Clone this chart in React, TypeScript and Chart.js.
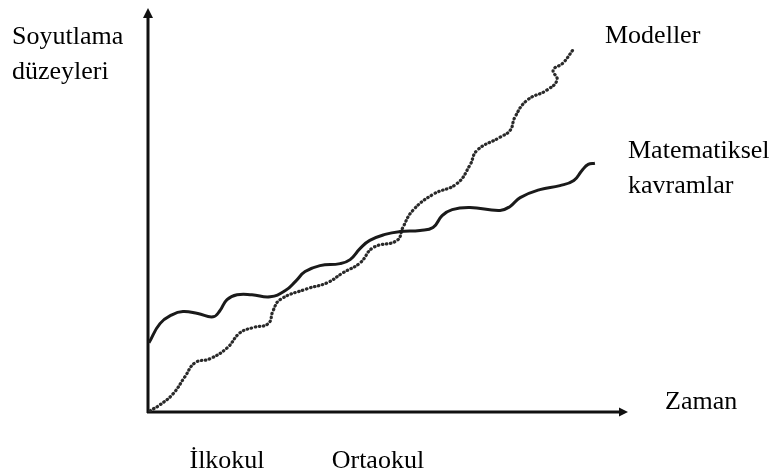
import React, { useEffect, useRef } from "react";
import { Chart, registerables } from "chart.js";

Chart.register(...registerables);

// Time (x, 0..100) and abstraction level (y, 0..100)
const mathTime = [0.2, 2.5, 5.0, 7.3, 10.4, 13.6, 15.0, 16.5, 18.6, 21.7, 25.5, 28.6, 30.9, 32.8, 35.9, 40.1, 42.2, 44.3, 46.3, 49.5, 52.6, 56.8, 59.5, 61.4, 63.5, 67.2, 73.5, 75.6, 77.7, 81.8, 86.0, 88.9, 90.6, 91.9, 93.3];
const mathLevel = [17.3, 22.1, 24.3, 25.1, 24.6, 23.8, 25.3, 28.1, 29.3, 29.3, 28.8, 30.3, 32.8, 35.1, 36.6, 37.1, 38.1, 40.9, 42.9, 44.4, 45.1, 45.4, 46.1, 49.1, 50.6, 51.1, 50.4, 51.4, 53.6, 55.6, 56.6, 57.9, 60.4, 61.9, 62.2];

const modelTime = [0.4, 2.5, 5.2, 7.7, 9.8, 12.9, 16.5, 19.2, 21.9, 25.1, 26.1, 27.6, 33.2, 37.4, 40.7, 44.3, 47.0, 52.0, 53.2, 55.3, 59.5, 64.5, 67.2, 68.7, 73.5, 75.6, 76.6, 79.1, 83.3, 85.4, 84.6, 86.6, 88.7];
const modelLevel = [0.3, 1.8, 4.5, 8.8, 12.3, 13.3, 16.0, 19.8, 21.1, 22.1, 25.3, 28.1, 30.8, 32.3, 34.8, 37.3, 41.1, 42.9, 46.1, 50.4, 54.4, 57.1, 61.7, 65.4, 68.7, 70.4, 73.7, 77.9, 80.5, 83.0, 85.5, 87.2, 90.5];

const stageLabels = ["İlkokul", "Ortaokul"];
const stageTimes = [16.5, 48];

const yTitle = ["Soyutlama", "düzeyleri"];
const xTitle = "Zaman";
const modelName = "Modeller";
const mathName = ["Matematiksel", "kavramlar"];

const FONT = '26px "Liberation Serif", "Times New Roman", serif';

const axesPlugin = {
  id: "axesArrows",
  beforeDatasetsDraw(chart: any) {
    const { ctx, chartArea } = chart;
    const { left, right, top, bottom } = chartArea;
    ctx.save();
    ctx.strokeStyle = "#111";
    ctx.fillStyle = "#111";
    ctx.lineWidth = 3;
    ctx.lineCap = "butt";
    // y axis
    ctx.beginPath();
    ctx.moveTo(left, bottom + 1);
    ctx.lineTo(left, top + 6);
    ctx.stroke();
    ctx.beginPath();
    ctx.moveTo(left, top - 4);
    ctx.lineTo(left - 5, top + 6);
    ctx.lineTo(left + 5, top + 6);
    ctx.closePath();
    ctx.fill();
    // x axis
    ctx.beginPath();
    ctx.moveTo(left - 1, bottom);
    ctx.lineTo(right - 7, bottom);
    ctx.stroke();
    ctx.beginPath();
    ctx.moveTo(right + 1, bottom);
    ctx.lineTo(right - 8, bottom - 4.5);
    ctx.lineTo(right - 8, bottom + 4.5);
    ctx.closePath();
    ctx.fill();
    ctx.restore();
  },
  afterDraw(chart: any) {
    const { ctx, chartArea } = chart;
    const { left, right, top, bottom } = chartArea;
    const xs = chart.scales.x;
    ctx.save();
    ctx.fillStyle = "#000";
    ctx.font = FONT;
    ctx.textBaseline = "alphabetic";
    ctx.textAlign = "left";
    ctx.fillText(yTitle[0], left - 136, top + 32);
    ctx.fillText(yTitle[1], left - 136, top + 67);
    ctx.fillText(modelName, right - 22, top + 31);
    ctx.fillText(mathName[0], right + 1, top + 146);
    ctx.fillText(mathName[1], right + 1, top + 181);
    ctx.fillText(xTitle, right + 38, bottom - 3);
    ctx.textAlign = "center";
    stageLabels.forEach((s, i) => {
      ctx.fillText(s, xs.getPixelForValue(stageTimes[i]), bottom + 56);
    });
    ctx.restore();
  },
};

export default function App() {
  const ref = useRef<HTMLCanvasElement>(null);
  useEffect(() => {
    if (!ref.current) return;
    const chart = new Chart(ref.current, {
      type: "line",
      data: {
        datasets: [
          {
            label: mathName.join(" "),
            data: mathTime.map((t, i) => ({ x: t, y: mathLevel[i] })),
            borderColor: "#1a1a1a",
            borderWidth: 3,
            pointRadius: 0,
            tension: 0.45,
            fill: false,
          },
          {
            label: modelName,
            data: modelTime.map((t, i) => ({ x: t, y: modelLevel[i] })),
            borderColor: "#2a2a2a",
            borderWidth: 3.2,
            borderDash: [0.5, 3.6],
            borderCapStyle: "round",
            pointRadius: 0,
            tension: 0.45,
            fill: false,
          },
        ],
      },
      options: {
        responsive: false,
        animation: false,
        events: [],
        layout: { padding: { left: 148, right: 148, top: 12, bottom: 63 } },
        plugins: { legend: { display: false }, tooltip: { enabled: false } },
        scales: {
          x: { type: "linear", min: 0, max: 100, display: false },
          y: { type: "linear", min: 0, max: 100, display: false },
        },
      },
      plugins: [axesPlugin],
    });
    return () => chart.destroy();
  }, []);
  return (
    <div style={{ position: "fixed", left: 0, top: 0, width: 775, height: 475, background: "#fff" }}>
      <canvas ref={ref} width={775} height={475} />
    </div>
  );
}
